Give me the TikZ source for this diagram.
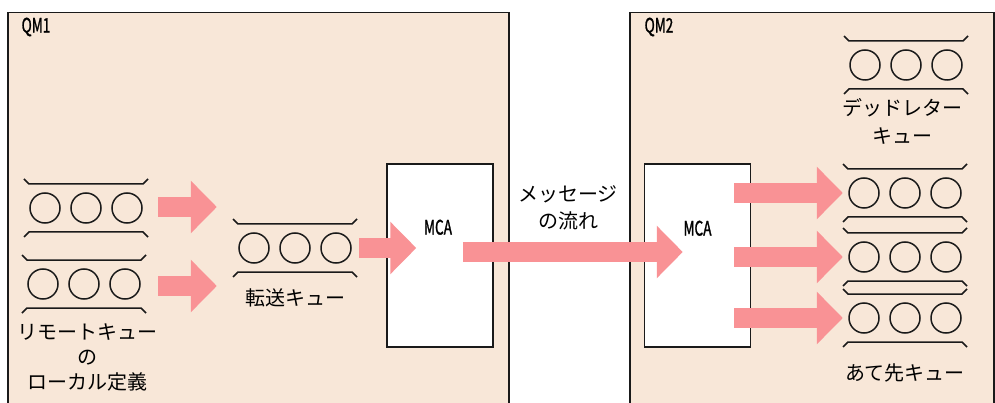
\documentclass[tikz,border=0pt]{standalone}
\usepackage{fontspec}
\setmainfont{Noto Sans CJK JP}
\newfontfamily\narrowfont[FakeStretch=0.68, FakeBold=1.2]{Noto Sans CJK JP}
\usepackage{xcolor}
\usepackage{tikz}
\usetikzlibrary{
  arrows.meta,
  calc,
  positioning
}
\definecolor{mgrfill}{HTML}{F8E7D8}
\definecolor{flowpink}{HTML}{F99295}
\definecolor{edge}{HTML}{1A1A1A}

% one queue: name, x, y (pixel coordinates)
\newcommand{\queue}[3]{%
  \node[qbody] (#1) at (#2,#3) {};
  \foreach \dx in {-41,0,41} {
    \draw[qline] ($(#1.center)+(\dx,0)$) circle[radius=15pt];
  }
  \draw[qline] ($(#1.center)+(-62,-29)$) -- ++(5,5) -- ++(114,0) -- ++(5,-5);
  \draw[qline] ($(#1.center)+(-62,29)$) -- ++(5,-5) -- ++(114,0) -- ++(5,5);
}

\begin{document}
\begin{tikzpicture}[
  x=1pt, y=-1pt,
  font=\fontsize{20}{25}\selectfont,
  mgr/.style={draw=edge, line width=1.5pt, fill=mgrfill, anchor=north west,
              minimum height=420pt, inner sep=0pt},
  mcabox/.style={draw=edge, line width=1.5pt, fill=white, inner sep=0pt,
                 minimum width=106pt, minimum height=183pt},
  qbody/.style={minimum width=124pt, minimum height=47pt, inner sep=0pt},
  qline/.style={draw=edge, line width=1.5pt},
  tag/.style={font=\fontsize{20}{22}\narrowfont},
  lbl/.style={align=center, inner sep=0pt},
  flow/.style={flowpink, line width=20pt, -{Triangle[length=26pt, width=51pt]}},
]
  \clip (0,0) rectangle (995,403);

  % queue managers
  \node[mgr, minimum width=501pt] (qm1) at (7,12) {};
  \node[mgr, minimum width=364pt] (qm2) at (629,12) {};
  \node[tag] (qm1tag) at (36,27) {QM1};
  \node[tag] (qm2tag) at (659,27) {QM2};

  % channel agents
  \node[mcabox] (mca1) at (440,255.5) {};
  \node[mcabox] (mca2) at (697.5,255.5) {};
  \node[tag] (mca1tag) at ($(mca1.north)+(-2,64)$) {MCA};
  \node[tag] (mca2tag) at ($(mca2.north)+(0,65)$) {MCA};

  % QM1 queues
  \queue{rq1}{86}{208}
  \queue{rq2}{84}{284}
  \queue{tq}{295}{248}
  \node[lbl] (rqlbl) at (87,357) {リモートキュー\\の\\ローカル定義};
  \node[lbl] (tqlbl) at (295,298) {転送キュー};

  % QM2 queues
  \queue{dlq}{906}{65}
  \queue{aq1}{905}{193}
  \queue{aq2}{905}{257}
  \queue{aq3}{905}{318}
  \node[lbl, font=\fontsize{20}{28}\selectfont] (dlqlbl) at (902,121) {デッドレター\\キュー};
  \node[lbl] (aqlbl) at (905,373) {あて先キュー};

  % message flow
  \node[lbl, font=\fontsize{20}{27}\selectfont] (flowlbl) at (568,208) {メッセージ\\の流れ};
  \draw[flow] ($(rq1.east)+(10,-1)$) -- ($(tq.west |- rq1.east)+(-16,-1)$);
  \draw[flow] ($(rq2.east)+(12,2)$) -- ($(tq.west |- rq2.east)+(-16,2)$);
  \draw[flow] ($(tq.east)+(2,0)$) -- ($(mca1.west |- tq.east)+(30,0)$);
  \draw[flow] ($(mca1.east)+(-31,-3.5)$) -- ($(mca2.west)+(39,-3.5)$);
  \foreach \q in {aq1,aq2,aq3} {
    \draw[flow] ($(mca2.east |- \q.west)+(-17,0)$) -- (\q.west);
  }
\end{tikzpicture}
\end{document}
